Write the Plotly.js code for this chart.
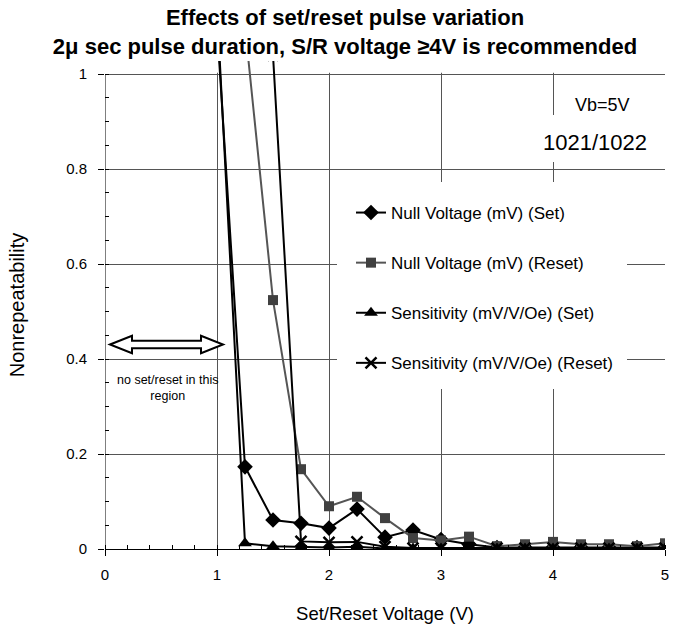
<!DOCTYPE html>
<html>
<head>
<meta charset="utf-8">
<script src="https://cdn.plot.ly/plotly-3.0.1.min.js"></script>
<style>html,body{margin:0;padding:0;background:#fff;}#chart{width:693px;height:629px;}</style>
</head>
<body>
<div id="chart"></div>
<script>
// ---- data ----
const voltage = [1.0, 1.25, 1.5, 1.75, 2.0, 2.25, 2.5, 2.75, 3.0, 3.25, 3.5, 3.75, 4.0, 4.25, 4.5, 4.75, 5.0];
const nullSet = [1.10, 0.173, 0.061, 0.054, 0.044, 0.084, 0.025, 0.040, 0.020, 0.010, 0.003, 0.003, 0.003, 0.003, 0.003, 0.003, 0.003];
const nullReset = [null, 1.10, 0.524, 0.168, 0.090, 0.110, 0.065, 0.023, 0.018, 0.026, 0.006, 0.010, 0.015, 0.010, 0.010, 0.006, 0.012];
const sensSet = [1.14, 0.012, 0.006, 0.004, 0.003, 0.005, 0.001, 0.001, 0.001, 0.001, 0.001, 0.001, 0.001, 0.001, 0.001, 0.001, 0.001];
const sensReset = [null, null, 1.04, 0.016, 0.014, 0.015, 0.005, 0.002, 0.002, 0.002, 0.002, 0.002, 0.002, 0.002, 0.002, 0.002, 0.002];
const seriesNames = ["Null Voltage (mV) (Set)", "Null Voltage (mV) (Reset)", "Sensitivity (mV/V/Oe) (Set)", "Sensitivity (mV/V/Oe) (Reset)"];
const xTickVals = [0, 1, 2, 3, 4, 5];
const xTickText = ["0", "1", "2", "3", "4", "5"];
const yTickVals = [0, 0.2, 0.4, 0.6, 0.8, 1];
const yTickText = ["0", "0.2", "0.4", "0.6", "0.8", "1"];

// ---- geometry helpers (pixel -> data) for decorative shapes ----
const PX0 = 105, PXW = 560, PY0 = 549, PYH = 475; // x=0 at PX0, y=0 at PY0
const YTOP = 1 + 13 / PYH;
const dx = p => (p - PX0) / (PXW / 5);
const dy = p => (PY0 - p) / PYH;

function arrowPath() {
  const xL = 110, xR = 223, cy = 344.5, hh = 8.7, sh = 3.8, hl = 22;
  const pts = [[xL, cy], [xL + hl, cy - hh], [xL + hl, cy - sh], [xR - hl, cy - sh], [xR - hl, cy - hh], [xR, cy],
               [xR - hl, cy + hh], [xR - hl, cy + sh], [xL + hl, cy + sh], [xL + hl, cy + hh]];
  return 'M' + pts.map(p => dx(p[0]).toFixed(4) + ',' + dy(p[1]).toFixed(4)).join(' L') + ' Z';
}

const FONT = "Liberation Sans, Arial, sans-serif";

const traces = [
  {x: voltage, y: nullSet, name: seriesNames[0], legendgroup: 'a', mode: 'lines+markers',
   line: {color: '#000', width: 2}, marker: {symbol: 'diamond', size: 12, color: '#000'}},
  {x: voltage, y: nullReset, name: seriesNames[1], legendgroup: 'b', mode: 'lines+markers',
   line: {color: '#555', width: 2}, marker: {symbol: 'square', size: 10, color: '#404040'}},
  {x: voltage, y: sensSet, name: seriesNames[2], legendgroup: 'c', mode: 'lines+markers',
   line: {color: '#000', width: 2}, marker: {symbol: 'triangle-up', size: 12, color: '#000'}},
  {x: voltage, y: sensReset, name: seriesNames[3], legendgroup: 'd', mode: 'lines+markers',
   line: {color: '#000', width: 2}, marker: {symbol: 'x-thin', size: 11, color: '#000', line: {color: '#000', width: 2.5}}}
];

const layout = {
  width: 693, height: 629,
  margin: {l: PX0, r: 693 - PX0 - PXW, t: PY0 - Math.round(PYH * YTOP), b: 629 - PY0, pad: 0},
  paper_bgcolor: '#fff', plot_bgcolor: '#fff',
  font: {family: FONT, color: '#000'},
  showlegend: true,
  title: {
    text: '<b>Effects of set/reset pulse variation<br>2μ sec pulse duration, S/R voltage ≥4V is recommended</b>',
    font: {family: FONT, size: 22, color: '#000'},
    xref: 'container', x: 345 / 693, xanchor: 'center', yref: 'container', y: 1 - 25 / 629, yanchor: 'top'
  },
  xaxis: {
    range: [0, 5], tickmode: 'array', tickvals: xTickVals, ticktext: xTickText,
    showgrid: true, gridcolor: '#555', gridwidth: 1, zeroline: false,
    showline: true, linecolor: '#000', linewidth: 1,
    ticks: 'outside', ticklen: 6, tickcolor: '#000', ticklabelstandoff: 6,
    minor: {ticks: 'inside', dtick: 0.2, ticklen: 4, tickcolor: '#000', showgrid: false},
    tickfont: {family: FONT, size: 15, color: '#000'},
    title: {text: 'Set/Reset Voltage (V)', font: {family: FONT, size: 18.5, color: '#000'}, standoff: 25}
  },
  yaxis: {
    range: [0, YTOP], tickmode: 'array', tickvals: yTickVals, ticktext: yTickText,
    showgrid: true, gridcolor: '#555', gridwidth: 1, zeroline: false,
    showline: false,
    ticks: 'outside', ticklen: 6, tickcolor: '#000', ticklabelstandoff: 8,
    minor: {ticks: 'inside', dtick: 0.05, ticklen: 4, tickcolor: '#000', showgrid: false},
    tickfont: {family: FONT, size: 15, color: '#000'},
    title: {text: 'Nonrepeatability', font: {family: FONT, size: 20, color: '#000'}, standoff: 36}
  },
  legend: {
    x: dx(351) / 5, xref: 'paper', xanchor: 'left',
    y: dy(195) / YTOP, yanchor: 'top',
    bgcolor: 'rgba(0,0,0,0)', borderwidth: 0,
    font: {family: FONT, size: 17, color: '#000'},
    tracegroupgap: 25, traceorder: 'grouped'
  },
  shapes: [
    // hide gridlines above y=1
    {type: 'rect', xref: 'x', yref: 'y', x0: 0, x1: 5, y0: 1 + 1.2 / PYH, y1: YTOP, layer: 'between',
     fillcolor: '#fff', line: {width: 0}},
    // legend white box
    {type: 'rect', xref: 'x', yref: 'y', x0: dx(337), x1: dx(627), y0: dy(389), y1: dy(182), layer: 'between',
     fillcolor: '#fff', line: {width: 0}},
    // label box 1021/1022
    {type: 'rect', xref: 'x', yref: 'y', x0: dx(535), x1: dx(663), y0: dy(162), y1: dy(115), layer: 'between',
     fillcolor: '#fff', line: {width: 0}},
    // left frame line
    {type: 'line', xref: 'x', yref: 'y', x0: 0, x1: 0, y0: 0, y1: 1, line: {color: '#000', width: 1}},
    // double arrow
    {type: 'path', xref: 'x', yref: 'y', path: arrowPath(), fillcolor: '#fff', line: {color: '#000', width: 2}}
  ],
  annotations: [
    {xref: 'x', yref: 'y', x: dx(602.5), y: dy(105), text: 'Vb=5V', showarrow: false,
     font: {family: FONT, size: 18, color: '#000'}},
    {xref: 'x', yref: 'y', x: dx(595), y: dy(142), text: '1021/1022', showarrow: false,
     font: {family: FONT, size: 22, color: '#000'}},
    {xref: 'x', yref: 'y', x: dx(167), y: dy(388), text: 'no set/reset in this<br>region', showarrow: false,
     font: {family: FONT, size: 12.5, color: '#000'}}
  ]
};

Plotly.newPlot('chart', traces, layout, {displayModeBar: false, staticPlot: true});
</script>
</body>
</html>
